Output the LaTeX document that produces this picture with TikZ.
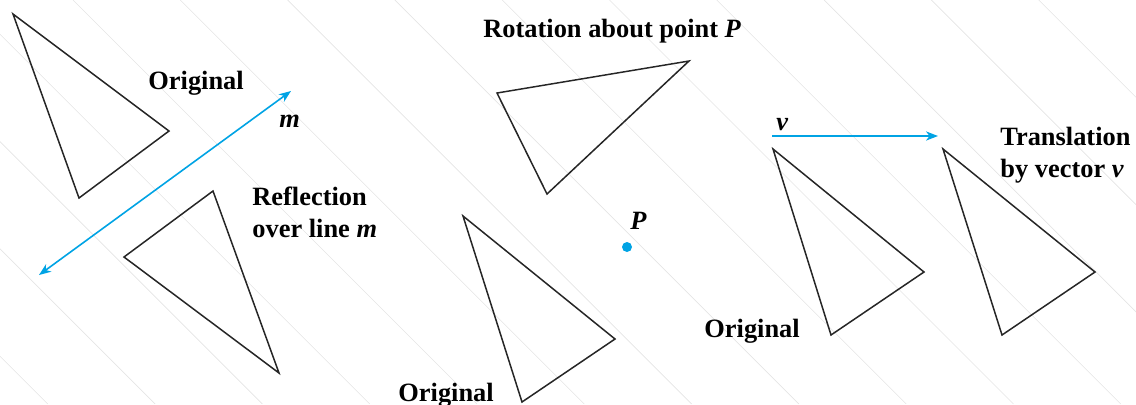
\documentclass[tikz,border=0pt]{standalone}
\usepackage{fontspec}
\setmainfont{Liberation Serif}
\usetikzlibrary{arrows.meta}
\definecolor{vecblue}{RGB}{0,163,228}
\definecolor{bggray} {RGB}{228,228,228}
\tikzset{
  tri/.style    ={draw=black!85, line width=0.75pt},
  lbl/.style    ={font=\fontsize{13.2}{16}\selectfont\bfseries,
                  inner sep=0pt, align=left},
  vec/.style    ={draw=vecblue, line width=0.8pt,
                  -{Stealth[length=6pt,width=4.6pt,inset=1.8pt]}},
  dvec/.style   ={vec, {Stealth[length=6pt,width=4.6pt,inset=1.8pt]}-{Stealth[length=6pt,width=4.6pt,inset=1.8pt]}},
  dot/.style    ={circle, fill=vecblue, inner sep=0pt, minimum size=5pt},
  bgline/.style ={draw=bggray, line width=0.3pt},
}

\begin{document}
\begin{tikzpicture}[x=0.5pt,y=-0.5pt]
  \useasboundingbox (0,0) rectangle (1136,404);
  % faint background hatching
  \foreach \k in {-4,...,9}
    \draw[bgline] ({73+107.3*\k},0) -- ++(404,404);

  %% reflection
  \coordinate (ra) at (13,14);
  \coordinate (rb) at (169,131);
  \coordinate (rc) at (79,198);
  \coordinate (sa) at (213,191);
  \coordinate (sb) at (124,257);
  \coordinate (sc) at (279,373);
  \draw[tri] (ra)--(rb)--(rc)--cycle;
  \draw[tri] (sa)--(sb)--(sc)--cycle;
  \coordinate (m1) at (39,275);
  \coordinate (m2) at (291,91);
  \draw[dvec] (m1)--(m2);
  \node[lbl, anchor=base west] (origA) at (148,89) {Original};
  \node[lbl, anchor=base west] (mlab) at (279,127) {\itshape m};
  \node[lbl, anchor=base west] (refl) at (252,237) {Reflection\\over line \textit{m}};

  %% rotation
  \coordinate (oa) at (463,216);
  \coordinate (ob) at (615,339);
  \coordinate (oc) at (522,402);
  \coordinate (qa) at (497,93);
  \coordinate (qb) at (689,61);
  \coordinate (qc) at (547,194);
  \draw[tri] (oa)--(ob)--(oc)--cycle;
  \draw[tri] (qa)--(qb)--(qc)--cycle;
  \node[dot] (P) at (627,247) {};
  \node[lbl, anchor=base west] (plab) at (630,229) {\itshape P};
  \node[lbl, anchor=base west] (rot) at (483,37) {Rotation about point \textit{P}};
  \node[lbl, anchor=base west] (origB) at (398,401) {Original};

  %% translation
  \coordinate (ta) at (773,149);
  \coordinate (tb) at (924,272);
  \coordinate (tc) at (831,335);
  \coordinate (ua) at (943,149);
  \coordinate (ub) at (1095,272);
  \coordinate (uc) at (1002,335);
  \draw[tri] (ta)--(tb)--(tc)--cycle;
  \draw[tri] (ua)--(ub)--(uc)--cycle;
  \coordinate (v1) at (772,136);
  \coordinate (v2) at (938,136);
  \draw[vec] (v1)--(v2);
  \node[lbl, anchor=base west] (vlab) at (776,130) {\itshape v};
  \node[lbl, anchor=base west] (trans) at (1000,177) {Translation\\by vector \textit{v}};
  \node[lbl, anchor=base west] (origC) at (704,337) {Original};
\end{tikzpicture}
\end{document}
